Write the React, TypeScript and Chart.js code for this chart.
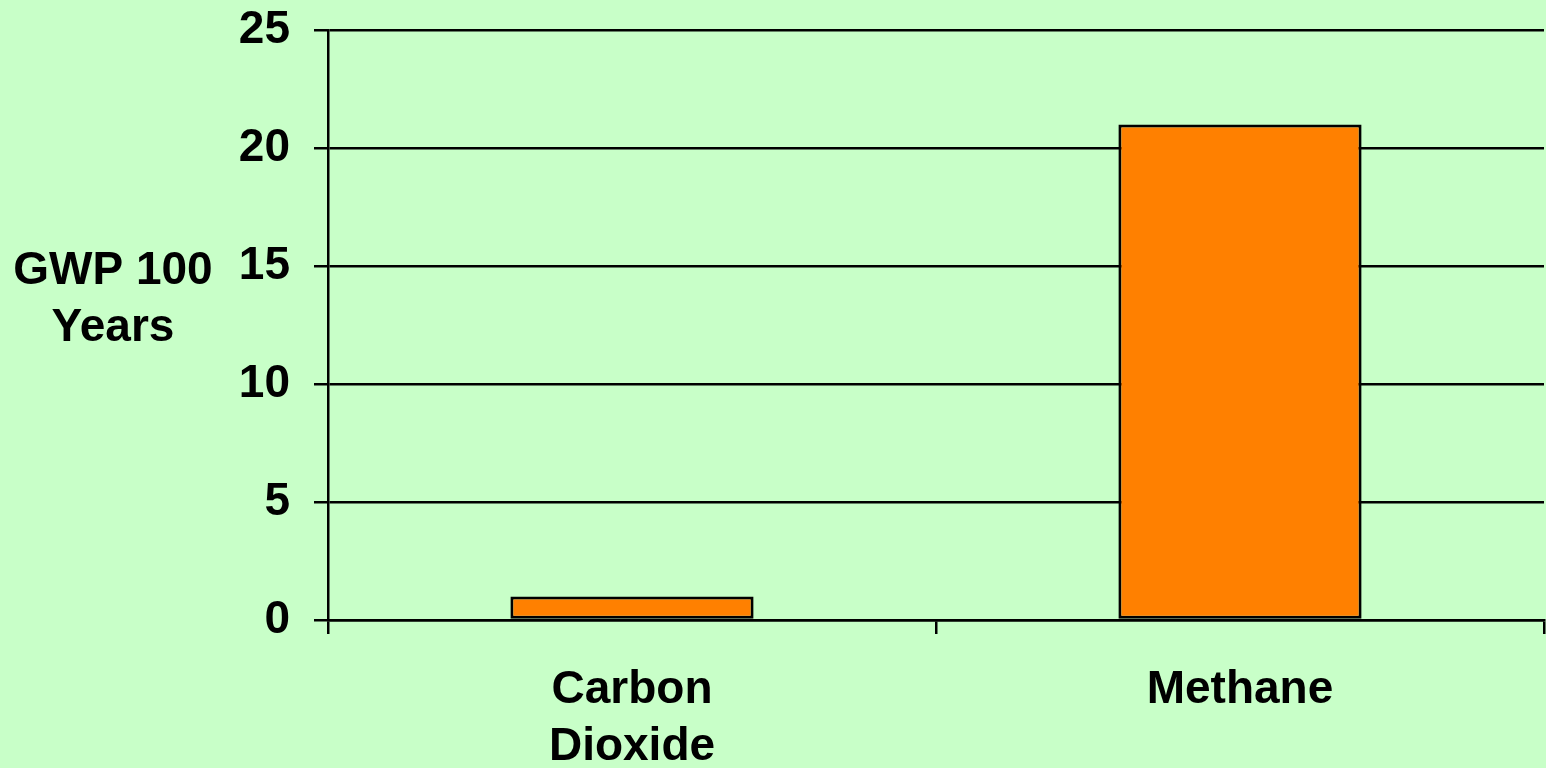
import { useEffect, useRef } from 'react';
import { Chart, registerables } from 'chart.js';

Chart.register(...registerables);

const gases: (string | string[])[] = [['Carbon', 'Dioxide'], 'Methane'];
const gwp100: number[] = [1, 21];
const yTitleLines: string[] = ['GWP 100', 'Years'];

const FONT = '"Liberation Sans", Arial, sans-serif';
const SIZE = 46;

// draws the horizontal two-line y axis title left of the tick labels
const yTitlePlugin = {
    id: 'yTitle',
    afterDraw(chart: Chart) {
        const ctx = chart.ctx;
        ctx.save();
        ctx.font = `bold ${SIZE}px ${FONT}`;
        ctx.fillStyle = '#000';
        ctx.textAlign = 'center';
        ctx.textBaseline = 'alphabetic';
        yTitleLines.forEach((line, i) => {
            ctx.fillText(line, 113, 284 + i * 57);
        });
        ctx.restore();
    }
};

export default function App() {
    const chartRef = useRef<HTMLCanvasElement>(null);
    const chartInstance = useRef<Chart | null>(null);

    useEffect(() => {
        if (!chartRef.current) return;
        const ctx = chartRef.current.getContext('2d');
        if (!ctx) return;

        chartInstance.current = new Chart(ctx, {
            type: 'bar',
            data: {
                labels: gases,
                datasets: [{
                    label: 'GWP 100 Years',
                    data: gwp100,
                    backgroundColor: '#FF8000',
                    borderColor: '#000',
                    borderWidth: 3,
                    borderSkipped: false,
                    categoryPercentage: 1,
                    barPercentage: 0.4,
                }]
            },
            options: {
                responsive: true,
                maintainAspectRatio: false,
                animation: false,
                layout: {
                    padding: { left: 0, right: 2, top: 30, bottom: 0 }
                },
                plugins: {
                    legend: { display: false },
                    tooltip: { enabled: false }
                },
                scales: {
                    y: {
                        min: 0,
                        max: 25,
                        ticks: {
                            stepSize: 5,
                            color: '#000',
                            padding: 24,
                            font: { family: FONT, size: SIZE, weight: 'bold' }
                        },
                        grid: {
                            color: '#000',
                            lineWidth: 2.5,
                            tickLength: 14
                        },
                        border: { display: true, color: '#000', width: 2.5 },
                        afterFit(scale: any) {
                            scale.width = 328;
                            scale.paddingTop = 0;
                            scale.paddingBottom = 0;
                        }
                    },
                    x: {
                        ticks: {
                            color: '#000',
                            padding: 28,
                            maxRotation: 0,
                            autoSkip: false,
                            font: { family: FONT, size: SIZE, weight: 'bold', lineHeight: 1.24 }
                        },
                        grid: {
                            offset: true,
                            drawOnChartArea: false,
                            color: '#000',
                            lineWidth: 2.5,
                            tickLength: 14
                        },
                        border: { display: true, color: '#000', width: 2.5 },
                        afterFit(scale: any) {
                            scale.height = 148;
                            scale.paddingLeft = 0;
                            scale.paddingRight = 0;
                        }
                    }
                }
            },
            plugins: [yTitlePlugin]
        });

        return () => {
            if (chartInstance.current) {
                chartInstance.current.destroy();
                chartInstance.current = null;
            }
        };
    }, []);

    return (
        <div style={{ position: 'absolute', left: 0, top: 0, width: 1546, height: 768, background: '#C8FFC8' }}>
            <canvas ref={chartRef} />
        </div>
    );
}
